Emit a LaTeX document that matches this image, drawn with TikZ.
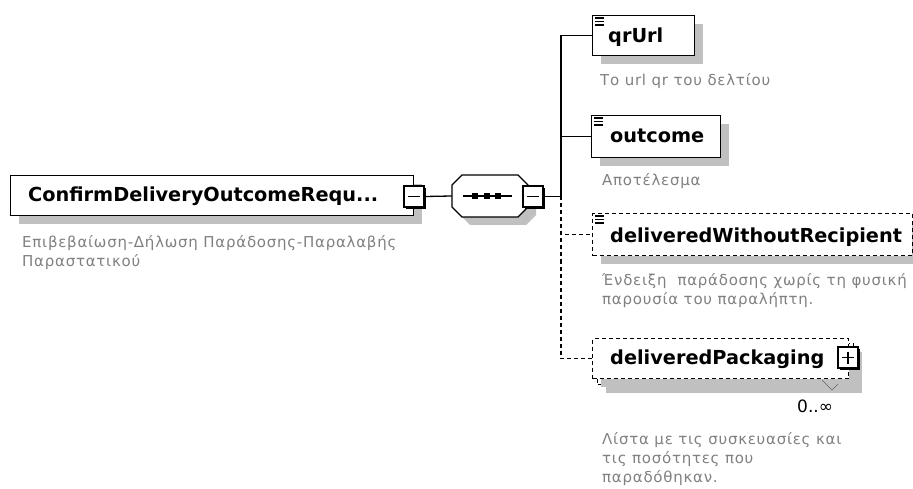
\documentclass[tikz,border=0pt]{standalone}
\usepackage{fontspec}
\setmainfont{DejaVu Sans}
\newfontfamily\descfont[LetterSpace=5]{DejaVu Sans}
\usetikzlibrary{shadows}

\definecolor{descgray}{RGB}{128,128,128}
\definecolor{shadowgray}{RGB}{192,192,192}

% small "simple content" sign in the corner of an element box
\newcommand{\valicon}[1]{%
    \foreach \dy in {3,6.5,10}
        \draw[line width=1.3pt] ([xshift=3pt,yshift=-\dy pt]#1.north west) -- ++(9pt,0);
}

\begin{document}
\begin{tikzpicture}[x=1pt, y=-1pt,
        elem/.style={draw, fill=white, line width=1.3pt, rectangle, anchor=north west, inner sep=0pt,
            drop shadow={shadow xshift=8pt, shadow yshift=-8pt, fill=shadowgray, opacity=1}},
        optelem/.style={elem, dash pattern=on 4pt off 3pt},
        ename/.style={font=\fontsize{19.3}{22}\selectfont\bfseries, anchor=base west, inner sep=0pt},
        desc/.style={font=\fontsize{15}{19}\descfont, text=descgray, anchor=base west, align=left, inner sep=0pt},
        pmbox/.style={draw, fill=white, line width=1.5pt, minimum width=20pt, minimum height=21pt, inner sep=0pt,
            drop shadow={shadow xshift=2pt, shadow yshift=-2pt, fill=black, opacity=1}},
        conn/.style={line width=1.3pt},
        optconn/.style={conn, dash pattern=on 4pt off 3pt}]

        \useasboundingbox (0,0) rectangle (913,489);

        % Корневой элемент
        \node[elem, minimum width=403pt, minimum height=40pt] (root) at (10,175) {};
        \node[ename] (rootname) at (28,202) {ConfirmDeliveryOutcomeRequ...};
        \node[desc]  (rootdesc) at (22,266) {Επιβεβαίωση-Δήλωση Παράδοσης-Παραλαβής\\Παραστατικού};
        \node[pmbox] (rootpm) at (414,196.5) {};
        \draw[line width=1.5pt] ([xshift=-6pt]rootpm.center) -- ([xshift=6pt]rootpm.center);

        % Последовательность
        \node[minimum width=76pt, minimum height=42pt, inner sep=0pt] (seq) at (490,196) {};
        \fill[shadowgray] (460,193) -- (470,183) -- (526,183) -- (536,193) -- (536,215) -- (526,225) -- (470,225) -- (460,215) -- cycle;
        \draw[conn, fill=white] (452,185) -- (462,175) -- (518,175) -- (528,185) -- (528,207) -- (518,217) -- (462,217) -- (452,207) -- cycle;
        \draw[conn] (463,196) -- (512,196);
        \foreach \dx in {475,487,498}
            \fill (\dx-3,193) rectangle ++(6,6);
        \node[pmbox] (seqpm) at (533,196.5) {};
        \draw[line width=1.5pt] ([xshift=-6pt]seqpm.center) -- ([xshift=6pt]seqpm.center);

        \coordinate (bus) at (561,196.5);

        % Дочерние элементы
        \node[elem, minimum width=102pt, minimum height=40pt] (qrurl) at (592,15) {};
        \valicon{qrurl}
        \node[ename] (qrurlname) at (608,43) {qrUrl};
        \node[desc]  (qrurldesc) at (600,86) {Το url qr του δελτίου};

        \node[elem, minimum width=129pt, minimum height=42pt] (outcome) at (591,115) {};
        \valicon{outcome}
        \node[ename] (outcomename) at (610,143) {outcome};
        \node[desc]  (outcomedesc) at (602,186) {Αποτέλεσμα};

        \node[optelem, minimum width=319.5pt, minimum height=42pt] (dwr) at (592,213) {};
        \valicon{dwr}
        \node[ename] (dwrname) at (610,243) {deliveredWithoutRecipient};
        \node[desc]  (dwrdesc) at (602,304) {Ένδειξη\ \ παράδοσης χωρίς τη φυσική\\παρουσία του παραλήπτη.};

        \node[optelem, minimum width=256pt, minimum height=41pt] (dpackback) at (597,343) {};
        \node[optelem, minimum width=256pt, minimum height=40pt, drop shadow={opacity=0}] (dpack) at (592,338) {};
        \node[ename] (dpackname) at (610,364) {deliveredPackaging};
        \node[pmbox] (dpackpm) at (848,357.5) {};
        \draw[line width=1.5pt] ([xshift=-6pt]dpackpm.center) -- ([xshift=6pt]dpackpm.center);
        \draw[line width=1.5pt] ([yshift=-6pt]dpackpm.center) -- ([yshift=6pt]dpackpm.center);
        \draw[black!60] (822,380) -- (832,390) -- (838,384);
        \node[font=\fontsize{17}{20}\selectfont, anchor=base west, inner sep=0pt] (dpackocc) at (797,412) {0..∞};
        \node[desc]  (dpackdesc) at (602,482) {Λίστα με τις συσκευασίες και\\τις ποσότητες που\\παραδόθηκαν.};

        % Связи
        \draw[conn] (rootpm.east) -- (seq.west);
        \draw[conn] (seqpm.east) -- (bus);
        \draw[conn] (bus) |- (qrurl.west);
        \draw[conn] (bus) |- (outcome.west);
        \draw[optconn] (bus) |- (dwr.west);
        \draw[optconn] (bus) |- (dpack.west);
    \end{tikzpicture}
\end{document}
